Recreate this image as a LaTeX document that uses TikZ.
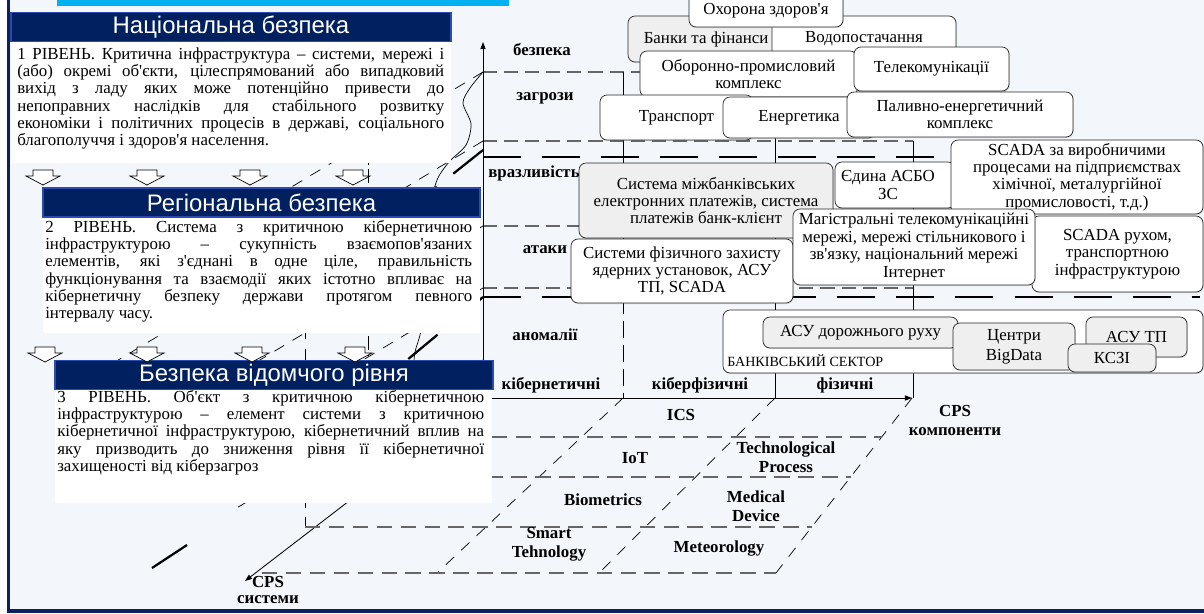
\documentclass[tikz,border=0pt]{standalone}
\usepackage{fontspec}
\setmainfont{Liberation Serif}
\newfontfamily\hdrfont{Liberation Sans}
\usepackage{xcolor}
\usetikzlibrary{arrows.meta}
\usetikzlibrary{shadows}

\definecolor{pageBg}{HTML}{F3F7FB}
\definecolor{frameNavy}{HTML}{0D1F5C}
\definecolor{hdrNavy}{HTML}{002060}
\definecolor{hdrEdge}{HTML}{2B4BAE}
\definecolor{titleCyan}{HTML}{00B0F0}
\definecolor{boxGray}{HTML}{EFEFEF}
\definecolor{dashGray}{HTML}{666666}

\newcommand{\apos}{\textquotesingle}

\begin{document}
\begin{tikzpicture}[x=0.025cm, y=-0.025cm]
    % ================= стилі =================
    \tikzset{
        % рамка з текстом: білий фон, заокруглені кути
        cbox/.style 2 args={draw=black!85, line width=0.5pt, rounded corners=5pt, fill=white,
            minimum width=#1*0.025cm, minimum height=#2*0.025cm, inner sep=0pt, align=center,
            font=\fontsize{12}{12.4}\selectfont,
            drop shadow={opacity=0.22, shadow xshift=0.6pt, shadow yshift=-0.8pt}},
        % сіра рамка
        gbox/.style 2 args={cbox={#1}{#2}, fill=boxGray},
        % заголовок панелі (темно-синій)
        hdr/.style={draw=hdrEdge, line width=0.8pt, fill=hdrNavy, text=white, inner sep=0pt,
            minimum height=29*0.025cm, font=\hdrfont\fontsize{17}{19}\selectfont},
        % біле тло під текстом панелі
        panelbg/.style={fill=white, draw=none, anchor=north west, inner sep=0pt},
        % текст панелі
        paneltxt/.style={anchor=north west, inner sep=0pt, text width=10.67cm, align=justify,
            font=\fontsize{12}{12.3}\selectfont},
        % підписи осей і клітинок
        axlbl/.style={font=\bfseries\fontsize{12}{13.5}\selectfont, inner sep=0pt, align=center},
        axisline/.style={line width=0.6pt, -{Triangle[length=5pt, width=3.6pt]}},
        lvlthin/.style={draw=dashGray, line width=1.1pt, dash pattern=on 10pt off 5pt},
        lvlthick/.style={draw=black, line width=1.9pt, dash pattern=on 27pt off 15pt},
        gridrow/.style={draw=dashGray, line width=1.3pt, dash pattern=on 11pt off 6pt},
        griddiag/.style={draw=black, line width=0.5pt, dash pattern=on 8pt off 7pt},
        divline/.style={draw=black, line width=0.6pt},
        hollow/.style={draw=black, line width=0.5pt, fill=white}
    }

    % ================= тло і рамка =================
    \useasboundingbox (0,0) rectangle (1204,613);
    \fill[white] (0,0) rectangle (1204,613);
    \fill[pageBg] (8,-5) rectangle (1210,609);
    \draw[frameNavy, line width=2.2pt] (8.5,-5) -- (8.5,609);
    \fill[frameNavy] (7,608.5) rectangle (1210,613);
    \fill[titleCyan] (57,-5) rectangle (509,6);

    % ================= задній план (майже весь під панелями) =================
    \begin{scope}
        \clip (46,-5) rectangle (483,613);
        \draw[griddiag] (483,72) -- (60,326);
        \draw[griddiag] (483,141) -- (60,395);
        \draw[lvlthick, line width=1.6pt] (483,150) -- (300,296);
        \draw[griddiag] (483,226) -- (60,480);
        \draw[griddiag] (483,288) -- (130,500);
        \draw[griddiag] (483,360) -- (230,512);
        \draw[lvlthick, line width=1.6pt] (483,297) -- (260,482);
        \draw[line width=1.6pt] (187,545) -- (152,568);
        \draw[griddiag, dash pattern=on 10pt off 3pt on 1pt off 3pt] (368,145) -- (368,477);
        \draw[griddiag] (305,201) -- (305,527);
        \draw[line width=0.5pt] plot[smooth] coordinates {(483,72) (470,88) (463,103) (471,124)
            (466,145) (449,162) (437,180) (432,205) (440,245) (430,295) (420,335) (414,362) (420,420)};
    \end{scope}

    % ================= рівні та стовпці =================
    \draw[lvlthin] (483,72) -- (913,72);
    \draw[lvlthin] (483,141) -- (913,141);
    \draw[lvlthick] (483,157) -- (960,157);
    \draw[lvlthin] (483,226) -- (913,226);
    \draw[lvlthin] (483,288) -- (913,288);
    \draw[lvlthick] (483,297) -- (1200,297);
    \draw[divline] (623,72) -- (623,297);
    \draw[divline, dash pattern=on 12pt off 5pt] (623,297) -- (623,398);
    \draw[divline] (775,72) -- (775,398);
    \draw[divline] (913,141) -- (913,398);

    % ================= осі =================
    \coordinate (O) at (483,398);
    \coordinate (Ytop) at (483,42);
    \coordinate (Xend) at (912,398);
    \coordinate (Zend) at (245,581);
    \draw[axisline] (O) -- (Ytop);
    \draw[axisline] (O) -- (Xend);
    \draw[axisline] (O) -- (Zend);

    % ================= нижня сітка CPS =================
    \foreach \xa/\xb in {623/437, 775/599, 912/776}
        \draw[griddiag] (\xa,398) -- (\xb,573);
    \foreach \yy/\xa/\xb in {437/420/882, 477/368/851, 527/305/812, 573/262/776}
        \draw[gridrow] (\xa,\yy) -- (\xb,\yy);

    % ================= підписи =================
    \node[axlbl] (lSec)   at (542,50)  {безпека};
    \node[axlbl] (lThr)   at (545,98)  {загрози};
    \node[axlbl] (lVul)   at (534,173) {вразливість};
    \node[axlbl] (lAtt)   at (545,250) {атаки};
    \node[axlbl] (lAno)   at (545,335) {аномалії};
    \node[axlbl] (lCyb)   at (551,385) {кібернетичні};
    \node[axlbl] (lCps)   at (700,385) {кіберфізичні};
    \node[axlbl] (lPhy)   at (845,385) {фізичні};
    \node[axlbl] (lIcs)   at (681,415) {ICS};
    \node[axlbl] (lIot)   at (635,458) {IoT};
    \node[axlbl] (lBio)   at (603,500) {Biometrics};
    \node[axlbl] (lSmart) at (549,544) {Smart\\Tehnology};
    \node[axlbl] (lTech)  at (786,457) {Technological\\Process};
    \node[axlbl] (lMed)   at (756,506) {Medical\\Device};
    \node[axlbl] (lMet)   at (719,548) {Meteorology};
    \node[axlbl] (lComp)  at (955,420) {CPS\\компоненти};
    \node[axlbl, font=\bfseries\fontsize{12}{12}\selectfont] (lSys) at (268,590) {CPS\\системи};

    % ================= верхня група: загрози =================
    \node[gbox={145}{46}] (bank)     at (700.5,39)  {\hspace*{8pt}Банки та фінанси};
    \node[cbox={184}{46}] (water)    at (864,39)    {Водопостачання};
    \node[cbox={154}{42}, text height=12pt, text depth=0pt] (health) at (766,6) {Охорона здоров\apos я};
    \node[cbox={217}{46}] (defense)  at (748.5,74)  {Оборонно-промисловий\\комплекс};
    \node[cbox={155}{44}] (telecom)  at (931.5,69)  {Телекомунікації};
    \node[cbox={153}{45}] (transp)   at (676.5,117.5) {Транспорт};
    \node[cbox={152}{41}] (energy)   at (799,117.5) {Енергетика};
    \node[cbox={226}{45}] (fuel)     at (960,114.5) {Паливно-енергетичний\\комплекс};

    % ================= середня група: вразливість, атаки =================
    \node[gbox={254}{75}] (interbank) at (706,200.5) {Система міжбанківських\\електронних платежів, система\\платежів банк-клієнт};
    \node[cbox={120}{46}] (asbo)      at (895,185)   {\hspace*{-10pt}Єдина АСБО\\\hspace*{-10pt}ЗС};
    \node[cbox={252}{74}] (scadaprod) at (1077,177)  {SCADA за виробничими\\процесами на підприємствах\\хімічної, металургійної\\промисловості, т.д.)};
    \node[cbox={171}{76}] (scadatr)   at (1117.5,254) {SCADA рухом,\\транспортною\\інфраструктурою};
    \node[cbox={222}{64}] (physprot)  at (682,271)   {Системи фізичного захисту\\ядерних установок, АСУ\\ТП, SCADA};
    \node[cbox={242}{76}] (backbone)  at (914,247)   {Магістральні телекомунікаційні\\мережі, мережі стільникового і\\зв\apos язку, національний мережі\\Інтернет};

    % ================= нижня група: аномалії =================
    \node[cbox={480}{63}] (banksec) at (963,341.5) {};
    \node[anchor=base west, inner sep=0pt, font=\fontsize{10}{12}\selectfont] (banklbl) at (727,366) {БАНКІВСЬКИЙ СЕКТОР};
    \node[gbox={195}{31}] (traffic) at (860.5,332.5) {АСУ дорожнього руху};
    \node[gbox={122}{47}, font=\fontsize{12}{14.5}\selectfont] (bigdata) at (1014,346.5) {Центри\\BigData};
    \node[gbox={101}{40}] (asutp)   at (1136.5,337) {АСУ ТП};
    \node[gbox={88}{28}]  (kszi)    at (1112,358)   {КСЗІ};

    % ================= панель 1: національна безпека =================
    \node[panelbg, minimum width=440*0.025cm, minimum height=121*0.025cm] (bg1) at (11,42) {};
    \node[hdr, minimum width=440*0.025cm] (hdr1) at (231,27) {Національна безпека};
    \node[paneltxt] (txt1) at (17,47) {\strut 1 РІВЕНЬ. Критична інфраструктура – системи, мережі і\linebreak
        (або) окремі об\apos єкти, цілеспрямований або випадковий\linebreak
        вихід з ладу яких може потенційно привести до\linebreak
        непоправних наслідків для стабільного розвитку\linebreak
        економіки і політичних процесів в державі, соціального\linebreak
        благополуччя і здоров\apos я населення.};

    % ================= панель 2: регіональна безпека =================
    \node[panelbg, minimum width=437*0.025cm, minimum height=116*0.025cm] (bg2) at (43,217) {};
    \node[hdr, minimum width=437*0.025cm] (hdr2) at (261.5,202.5) {Регіональна безпека};
    \node[paneltxt] (txt2) at (45,220) {\strut 2 РІВЕНЬ. Система з критичною кібернетичною\linebreak
        інфраструктурою – сукупність взаємопов\apos язаних\linebreak
        елементів, які з\apos єднані в одне ціле, правильність\linebreak
        функціонування та взаємодії яких істотно впливає на\linebreak
        кібернетичну безпеку держави протягом певного\linebreak
        інтервалу часу.};

    % ================= панель 3: безпека відомчого рівня =================
    \node[panelbg, minimum width=437*0.025cm, minimum height=113*0.025cm] (bg3) at (55,390) {};
    \node[hdr, minimum width=438*0.025cm] (hdr3) at (274,375) {Безпека відомчого рівня};
    \node[paneltxt] (txt3) at (57,390) {\strut 3 РІВЕНЬ. Об\apos єкт з критичною кібернетичною\linebreak
        інфраструктурою – елемент системи з критичною\linebreak
        кібернетичної інфраструктурою, кібернетичний вплив на\linebreak
        яку призводить до зниження рівня її кібернетичної\linebreak
        захищеності від кіберзагроз};

    % ================= стрілки між рівнями =================
    \foreach \ax/\ay in {43/170, 147/170, 250/170, 353/170, 45/347, 147/347, 252/347, 355/347}
        \draw[hollow] (\ax-10,\ay) -- (\ax+10,\ay) -- (\ax+10,\ay+6) -- (\ax+17,\ay+6)
            -- (\ax,\ay+15) -- (\ax-17,\ay+6) -- (\ax-10,\ay+6) -- cycle;
\end{tikzpicture}
\end{document}
